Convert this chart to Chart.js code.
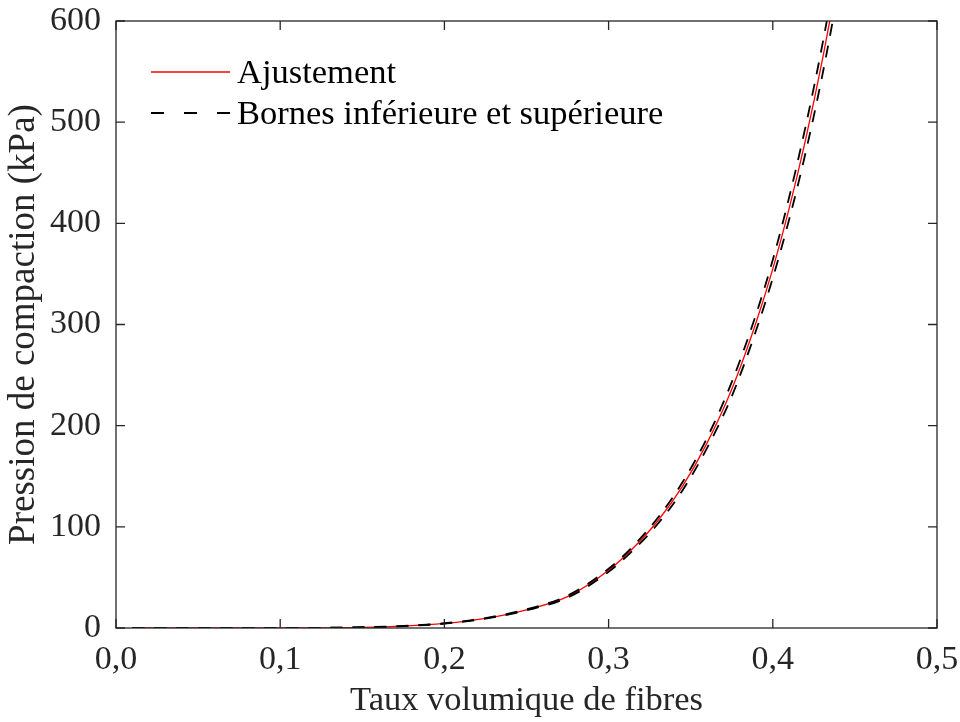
<!DOCTYPE html>
<html>
<head>
<meta charset="utf-8">
<script src="https://cdn.jsdelivr.net/npm/chart.js@4.4.0/dist/chart.umd.min.js"></script>
<style>
  html, body { margin: 0; padding: 0; background: #fff; }
</style>
</head>
<body>
<canvas id="chart" width="960" height="722"></canvas>
<script>
// valeurs
const taux = [0.01, 0.05, 0.10, 0.15, 0.175, 0.20, 0.225, 0.25, 0.275, 0.30, 0.315, 0.33, 0.345, 0.36, 0.375, 0.39, 0.40, 0.41, 0.42, 0.43, 0.44];
const ajustement = [0, 0, 0.06, 0.7, 1.9, 4.5, 9.5, 18, 31, 57, 79, 106, 140, 183, 236, 303, 355, 415, 483, 560, 647];
const borneSup = [0, 0, 0.06, 0.72, 2.0, 4.7, 9.8, 18.5, 32, 58.5, 81, 109, 144, 188, 243, 311, 364, 426, 496, 575, 664];
const borneInf = [0, 0, 0.06, 0.68, 1.8, 4.3, 9.2, 17.5, 30, 55.5, 77, 103, 136, 178, 229, 295, 346, 404, 470, 545, 630];

const xTicks = [0, 0.1, 0.2, 0.3, 0.4, 0.5];
const yTicks = [0, 100, 200, 300, 400, 500, 600];

const labelFit = 'Ajustement';
const labelBornes = 'Bornes inférieure et supérieure';

const serif = "'Liberation Serif', 'Times New Roman', serif";
const axisGrey = '#262626';

const pts = vals => taux.map((t, i) => ({ x: t, y: vals[i] }));

// boite + graduations vers l'interieur (style matlab)
const boxTicks = {
  id: 'boxTicks',
  afterDatasetsDraw(chart) {
    const { ctx, chartArea: a, scales: { x, y } } = chart;
    const len = 9;
    ctx.save();
    ctx.strokeStyle = axisGrey;
    ctx.lineWidth = 1.3;
    ctx.strokeRect(a.left, a.top, a.right - a.left, a.bottom - a.top);
    ctx.beginPath();
    xTicks.forEach(v => {
      const px = x.getPixelForValue(v);
      ctx.moveTo(px, a.bottom); ctx.lineTo(px, a.bottom - len);
      ctx.moveTo(px, a.top); ctx.lineTo(px, a.top + len);
    });
    yTicks.forEach(v => {
      const py = y.getPixelForValue(v);
      ctx.moveTo(a.left, py); ctx.lineTo(a.left + len, py);
      ctx.moveTo(a.right, py); ctx.lineTo(a.right - len, py);
    });
    ctx.stroke();
    ctx.restore();
  }
};

// legende dans la zone du graphe, en haut a gauche
const insideLegend = {
  id: 'insideLegend',
  afterDraw(chart) {
    const { ctx, chartArea: a } = chart;
    const sets = chart.data.datasets;
    const x0 = a.left + 35, lineLen = 79, rowH = 41;
    const y0 = a.top + 51;
    ctx.save();
    ctx.font = '34.5px ' + serif;
    ctx.fillStyle = '#000';
    ctx.textBaseline = 'middle';
    [sets[0], sets[1]].forEach((ds, i) => {
      const yy = y0 + i * rowH;
      ctx.beginPath();
      ctx.strokeStyle = ds.borderColor;
      ctx.lineWidth = ds.borderWidth;
      ctx.setLineDash(i ? [13, 20] : []);
      ctx.moveTo(x0, yy);
      ctx.lineTo(x0 + lineLen, yy);
      ctx.stroke();
      ctx.setLineDash([]);
      ctx.fillText(ds.label, x0 + lineLen + 7, yy + 2);
    });
    ctx.restore();
  }
};

const ctx = document.getElementById('chart').getContext('2d');
const chart = new Chart(ctx, {
  type: 'line',
  data: {
    datasets: [
      {
        label: labelFit,
        data: pts(ajustement),
        borderColor: '#ff0000',
        borderWidth: 1.3,
        pointRadius: 0,
        cubicInterpolationMode: 'monotone',
        clip: 0,
        order: 2
      },
      {
        label: labelBornes,
        data: pts(borneSup),
        borderColor: '#000000',
        borderWidth: 1.8,
        borderDash: [12, 10],
        pointRadius: 0,
        cubicInterpolationMode: 'monotone',
        clip: 0,
        order: 1
      },
      {
        label: labelBornes,
        data: pts(borneInf),
        borderColor: '#000000',
        borderWidth: 1.8,
        borderDash: [12, 10],
        pointRadius: 0,
        cubicInterpolationMode: 'monotone',
        clip: 0,
        order: 1
      }
    ]
  },
  options: {
    responsive: false,
    animation: false,
    devicePixelRatio: 1,
    layout: { padding: { top: 21, right: 23, left: 0, bottom: 0 } },
    plugins: {
      legend: { display: false },
      tooltip: { enabled: false }
    },
    scales: {
      x: {
        type: 'linear',
        min: 0,
        max: 0.5,
        afterBuildTicks: s => { s.ticks = xTicks.map(v => ({ value: v })); },
        afterFit: s => { s.height = 94; s.paddingLeft = 0; s.paddingRight = 0; },
        grid: { display: false, drawTicks: false },
        border: { display: false },
        ticks: {
          padding: 12,
          color: axisGrey,
          font: { family: serif, size: 34 },
          callback: v => v.toFixed(1).replace('.', ',')
        },
        title: {
          display: true,
          text: 'Taux volumique de fibres',
          color: axisGrey,
          font: { family: serif, size: 34.5 },
          padding: { top: 0, bottom: 0 }
        }
      },
      y: {
        min: 0,
        max: 600,
        afterBuildTicks: s => { s.ticks = yTicks.map(v => ({ value: v })); },
        afterFit: s => { s.width = 116; s.paddingTop = 0; s.paddingBottom = 0; },
        grid: { display: false, drawTicks: false },
        border: { display: false },
        ticks: {
          padding: 15,
          color: axisGrey,
          font: { family: serif, size: 34 }
        },
        title: {
          display: true,
          text: 'Pression de compaction (kPa)',
          color: axisGrey,
          font: { family: serif, size: 37 },
          padding: { top: 2, bottom: 0 }
        }
      }
    }
  },
  plugins: [boxTicks, insideLegend]
});
</script>
</body>
</html>
